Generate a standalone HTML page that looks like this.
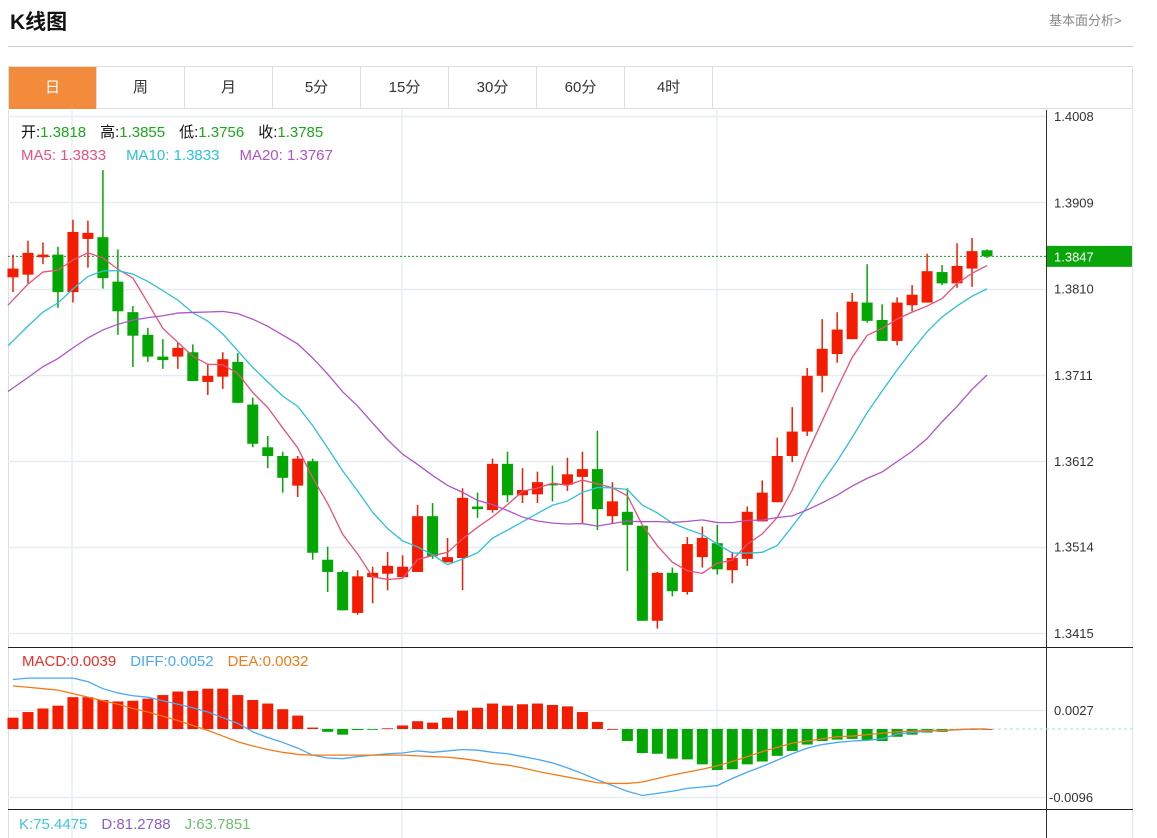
<!DOCTYPE html>
<html><head><meta charset="utf-8">
<style>
body{margin:0;width:1157px;height:838px;overflow:hidden;background:#fff;font-family:"Liberation Sans","Noto Sans CJK SC",sans-serif;position:relative}
.title{position:absolute;left:10px;top:6px;font-size:21px;font-weight:bold;color:#111}
.more{position:absolute;left:1049px;top:10px;font-size:13px;color:#888}
.hr{position:absolute;left:8px;top:46px;width:1125px;height:1px;background:#ccc}
.tabs{position:absolute;left:8px;top:66px;width:1125px;height:43px;border:1px solid #ddd;border-bottom:1px solid #ddd;box-sizing:border-box;display:flex}
.tab{width:88px;height:42px;line-height:42px;text-align:center;font-size:15px;color:#333;border-right:1px solid #ddd;box-sizing:border-box}
.tab.on{background:#f28c3c;color:#fff}
svg{position:absolute;left:0;top:0}
</style></head><body>
<div class="title">K线图</div>
<div class="more">基本面分析&gt;</div>
<div class="hr"></div>
<div class="tabs">
<div class="tab on">日</div>
<div class="tab">周</div>
<div class="tab">月</div>
<div class="tab">5分</div>
<div class="tab">15分</div>
<div class="tab">30分</div>
<div class="tab">60分</div>
<div class="tab">4时</div>
</div>
<svg id="chart" width="1157" height="838"></svg>
<script>
const priceTicks=[1.4008,1.3909,1.3810,1.3711,1.3612,1.3514,1.3415];
const macdTicks=[27,-96];
const prevCloses=[1.3610,1.3600,1.3620,1.3630,1.3645,1.3640,1.3655,1.3660,1.3675,1.3685,1.3680,1.3690,1.3700,1.3715,1.3730,1.3760,1.3780,1.3795,1.3817];
const opens=[1.3823,1.3826,1.3846,1.3849,1.3806,1.3867,1.3869,1.3818,1.3783,1.3757,1.3732,1.3732,1.3737,1.3703,1.3709,1.3726,1.3677,1.3628,1.3618,1.3584,1.3612,1.3499,1.3485,1.3438,1.3479,1.3483,1.3479,1.3485,1.3549,1.3496,1.3501,1.3560,1.3556,1.3609,1.3573,1.3574,1.3586,1.3585,1.3594,1.3603,1.3549,1.3554,1.3538,1.3429,1.3484,1.3462,1.3502,1.3518,1.3487,1.3500,1.3543,1.3565,1.3618,1.3646,1.3710,1.3735,1.3752,1.3794,1.3774,1.3750,1.3791,1.3794,1.3829,1.3816,1.3833,1.3854];
const highs=[1.3849,1.3865,1.3863,1.3858,1.3889,1.3888,1.3946,1.3855,1.3790,1.3765,1.3752,1.3748,1.3746,1.3724,1.3737,1.3736,1.3685,1.3641,1.3623,1.3618,1.3615,1.3514,1.3487,1.3487,1.3491,1.3508,1.3504,1.3562,1.3564,1.3524,1.3581,1.3576,1.3615,1.3623,1.3604,1.3600,1.3607,1.3616,1.3623,1.3647,1.3588,1.3581,1.3538,1.3485,1.3490,1.3525,1.3537,1.3539,1.3508,1.3560,1.3590,1.3639,1.3674,1.3719,1.3775,1.3783,1.3805,1.3838,1.3792,1.3800,1.3814,1.3850,1.3837,1.3862,1.3868,1.3855];
const lows=[1.3806,1.3816,1.3838,1.3788,1.3794,1.3834,1.3810,1.3757,1.3720,1.3726,1.3718,1.3718,1.3704,1.3688,1.3695,1.3679,1.3628,1.3604,1.3576,1.3571,1.3499,1.3462,1.3441,1.3436,1.3449,1.3464,1.3479,1.3485,1.3500,1.3496,1.3464,1.3547,1.3553,1.3565,1.3564,1.3564,1.3566,1.3578,1.3540,1.3533,1.3541,1.3486,1.3429,1.3420,1.3457,1.3459,1.3490,1.3482,1.3472,1.3492,1.3543,1.3565,1.3611,1.3641,1.3691,1.3725,1.3752,1.3771,1.3750,1.3745,1.3784,1.3794,1.3814,1.3811,1.3812,1.3845];
const closes=[1.3833,1.3851,1.3849,1.3806,1.3875,1.3874,1.3822,1.3784,1.3756,1.3732,1.3728,1.3742,1.3704,1.3710,1.3729,1.3679,1.3632,1.3618,1.3593,1.3615,1.3507,1.3485,1.3441,1.3480,1.3484,1.3492,1.3491,1.3549,1.3503,1.3502,1.3570,1.3557,1.3609,1.3573,1.3579,1.3588,1.3585,1.3597,1.3603,1.3557,1.3566,1.3539,1.3429,1.3484,1.3463,1.3517,1.3524,1.3488,1.3501,1.3554,1.3576,1.3618,1.3646,1.3710,1.3741,1.3763,1.3795,1.3773,1.3750,1.3794,1.3803,1.3830,1.3816,1.3836,1.3853,1.3847];
// MACD values in units of 0.0001
const macdBars=[16,24,29,33,45,45,41,39,40,43,48,53,54,57,57,48,41,36,28,19,2,-4,-8,-1.5,-1,1,5,11,9,16,26,30,36,33,35,36,34,32,24,10,0,-17,-34,-35,-42,-43,-50,-58,-57,-50,-46,-38,-31,-22,-17,-15,-14,-16,-17,-11,-8,-5,-4,-1,0,0];
const diffVals=[70,72,72,72,72,67,57,51,47,45,40,35,30,24,16,8,-4,-12,-19,-27,-37,-41,-42,-39,-37,-35,-34,-31,-33,-31,-29,-30,-33,-35,-39,-43,-48,-55,-63,-72,-80,-88,-94,-91,-88,-84,-82,-80,-70,-61,-53,-44,-35,-27,-22,-19,-17,-16,-14,-7,-5,-3,-2,-1,0,0];
const deaVals=[61,59,57,55,50,45,40,35,29,24,18,12,5,-2,-10,-18,-24,-29,-33,-36,-37,-37,-37,-37,-37,-37,-37,-38,-39,-40,-42,-45,-49,-51,-55,-60,-64,-68,-72,-76,-77,-77,-75,-70,-65,-61,-57,-52,-46,-39,-32,-26,-20,-17,-14,-11,-10,-8,-6,-4,-3,-2,-2,-1,0,0];
const lastPrice=1.3847;

const NS='http://www.w3.org/2000/svg';
const svg=document.getElementById('chart');
function mk(tag,attrs,parent){const e=document.createElementNS(NS,tag);for(const k in attrs)e.setAttribute(k,attrs[k]);(parent||svg).appendChild(e);return e;}
const xOf=i=>13+i*14.985;
const yP=p=>116+(1.4008-p)*8718;
const yM=v=>729-v*0.707;
const RED='#f31c00',GRN='#04a604';

let g=mk('g',{});


mk('line',{x1:8.5,y1:110,x2:8.5,y2:838,stroke:'#ddd'},g);
mk('line',{x1:1132.5,y1:110,x2:1132.5,y2:838,stroke:'#e4e4e4'},g);
[72,402,717].forEach(x=>mk('line',{x1:x,y1:110,x2:x,y2:838,stroke:'#e6edf3','stroke-width':1.5},g));
priceTicks.forEach(p=>mk('line',{x1:8,y1:Math.round(yP(p))+.5,x2:1046,y2:Math.round(yP(p))+.5,stroke:'#e6edf3','stroke-width':1.5},g));
macdTicks.forEach(v=>mk('line',{x1:8,y1:Math.round(yM(v))+.5,x2:1046,y2:Math.round(yM(v))+.5,stroke:'#e6edf3','stroke-width':1.5},g));
mk('line',{x1:1046.5,y1:110,x2:1046.5,y2:838,stroke:'#333'},g);
mk('line',{x1:8,y1:647.5,x2:1133,y2:647.5,stroke:'#222'},g);
mk('line',{x1:8,y1:809.5,x2:1133,y2:809.5,stroke:'#222'},g);

const ax=mk('g',{});


priceTicks.forEach(p=>{const t=mk('text',{x:1054,y:yP(p)+5,'font-size':13,fill:'#333'},ax);t.textContent=p.toFixed(4);});
const mx=mk('g',{});


macdTicks.forEach(v=>{const t=mk('text',{x:v<0?1049:1054,y:yM(v)+5,'font-size':13,fill:'#333'},mx);t.textContent=(v/10000).toFixed(4);});

const lp=mk('line',{x1:8,y1:yP(lastPrice),x2:1046,y2:yP(lastPrice),stroke:'#1a9a1a','stroke-dasharray':'2,2'});


const tag=mk('g',{});


mk('rect',{x:1047,y:yP(lastPrice)-10.5,width:85,height:21,fill:'#0aa50a'},tag);
const lt=mk('text',{x:1054,y:yP(lastPrice)+5,'font-size':13,fill:'#fff'},tag);lt.textContent=lastPrice.toFixed(4);

const cg=mk('g',{});


closes.forEach((c,i)=>{
  const o=opens[i],up=c>=o,col=up?RED:GRN,x=xOf(i);
  const k=mk('g',{},cg);
  
  
  mk('line',{x1:x,y1:yP(highs[i]),x2:x,y2:yP(lows[i]),stroke:col,'stroke-width':1.5},k);
  const top=yP(Math.max(o,c)),bot=yP(Math.min(o,c));
  mk('rect',{x:x-5.5,y:top,width:11,height:Math.max(bot-top,1.5),fill:col},k);
});

const all=prevCloses.concat(closes);
function ma(n){return closes.map((_,i)=>{const j=i+prevCloses.length;let s=0;for(let k=j-n+1;k<=j;k++)s+=all[Math.max(k,0)];return s/n;});}
[[5,'#e8507a','ma5-line'],[10,'#2bc1d8','ma10-line'],[20,'#b054c8','ma20-line']].forEach(([n,col,name])=>{
  const v=ma(n);
  const pts=v.map((p,i)=>xOf(i)+','+yP(p));
  pts.unshift('8,'+yP(v[0]+(v[0]-v[1])*0.33));
  const pl=mk('polyline',{points:pts.join(' '),fill:'none',stroke:col,'stroke-width':1.3});
  
  
});

const zl=mk('line',{x1:8,y1:yM(0),x2:1133,y2:yM(0),stroke:'#a8d8e8','stroke-dasharray':'3,3'});


const mg=mk('g',{});


macdBars.forEach((v,i)=>{
  const y0=yM(0),y1=yM(v);
  const r=mk('rect',{x:xOf(i)-5.5,y:Math.min(y0,y1),width:11,height:Math.max(Math.abs(y1-y0),0.8),fill:v>=0?RED:GRN},mg);
  
  
});
[[diffVals,'#4aa8f0','diff-line'],[deaVals,'#f27a1a','dea-line']].forEach(([arr,col,name])=>{
  const pl=mk('polyline',{points:arr.map((v,i)=>xOf(i)+','+yM(v)).join(' '),fill:'none',stroke:col,'stroke-width':1.3});
  
  
});
</script>
<svg width="1157" height="838" style="pointer-events:none">
<g font-family="Liberation Sans, Noto Sans CJK SC, sans-serif" font-size="15">
<text x="21" y="137"><tspan fill="#111">开:</tspan><tspan fill="#1aa81a">1.3818</tspan><tspan fill="#111" dx="14">高:</tspan><tspan fill="#1aa81a">1.3855</tspan><tspan fill="#111" dx="14">低:</tspan><tspan fill="#1aa81a">1.3756</tspan><tspan fill="#111" dx="14">收:</tspan><tspan fill="#1aa81a">1.3785</tspan></text>
<text x="21" y="160"><tspan fill="#e8507a">MA5: 1.3833</tspan><tspan fill="#2bc1d8" dx="20">MA10: 1.3833</tspan><tspan fill="#b054c8" dx="20">MA20: 1.3767</tspan></text>
<text x="22" y="666"><tspan fill="#e8302a">MACD:0.0039</tspan><tspan fill="#4aa8f0" dx="14">DIFF:0.0052</tspan><tspan fill="#f27a1a" dx="14">DEA:0.0032</tspan></text>
<text x="19" y="829"><tspan fill="#3ec7d8">K:75.4475</tspan><tspan fill="#8b5fc8" dx="14">D:81.2788</tspan><tspan fill="#6cbf6c" dx="14">J:63.7851</tspan></text>
</g></svg>
</body></html>
